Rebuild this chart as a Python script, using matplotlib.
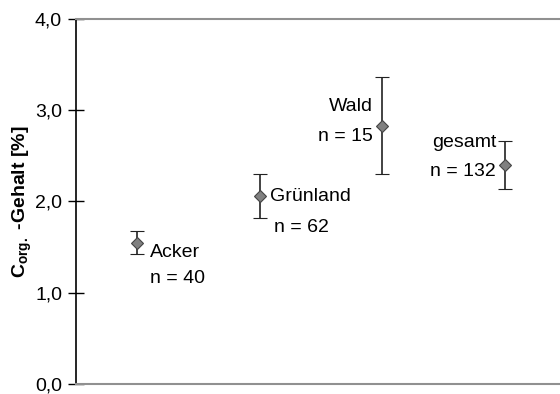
import matplotlib
matplotlib.use("Agg")
import matplotlib.pyplot as plt

plt.rcParams['font.family'] = ['Liberation Sans', 'DejaVu Sans']
plt.rcParams['mathtext.fontset'] = 'custom'
plt.rcParams['mathtext.rm'] = 'Liberation Sans'
plt.rcParams['mathtext.bf'] = 'Liberation Sans:bold'

# values
groups = ["Acker", "Grünland", "Wald", "gesamt"]
n_labels = ["n = 40", "n = 62", "n = 15", "n = 132"]
means = [1.55, 2.06, 2.83, 2.40]
errors = [0.125, 0.24, 0.53, 0.26]
yticks = [0.0, 1.0, 2.0, 3.0, 4.0]
ytick_labels = ["0,0", "1,0", "2,0", "3,0", "4,0"]

xs = list(range(1, len(groups) + 1))

fig = plt.figure(figsize=(5.6, 3.94), dpi=100)
ax = fig.add_axes([0.1357, 0.0254, 0.862, 0.9264])

ax.errorbar(xs, means, yerr=errors, fmt="D", color="#222222", ecolor="#222222",
            elinewidth=1.2, capsize=5, capthick=1.2,
            markerfacecolor="#808080", markeredgecolor="#444444",
            markersize=6, markeredgewidth=0.8)

ax.set_xlim(0.5, 4.44)
ax.set_ylim(0, 4)
ax.set_yticks(yticks)
ax.set_yticklabels(ytick_labels, fontsize=14)
ax.set_xticks([])
ax.tick_params(axis="y", direction="inout", length=12, width=1, pad=4)

ax.spines["right"].set_visible(False)
ax.spines["top"].set_color("#909090")
ax.spines["bottom"].set_color("#909090")
ax.spines["top"].set_linewidth(1.5)
ax.spines["bottom"].set_linewidth(1.5)
ax.spines["left"].set_linewidth(1.2)

ax.set_ylabel(r"$\mathbf{C_{org.}}$ -Gehalt [%]", fontsize=14, fontweight="bold", labelpad=1)

fs = 14
# Acker: labels right below
ax.text(1.105, 1.44, groups[0], fontsize=fs, ha="left", va="center")
ax.text(1.105, 1.16, n_labels[0], fontsize=fs, ha="left", va="center")
# Grünland: labels to the right
ax.text(2.08, 2.05, groups[1], fontsize=fs, ha="left", va="center")
ax.text(2.115, 1.72, n_labels[1], fontsize=fs, ha="left", va="center")
# Wald: labels to the left
ax.text(2.92, 3.04, groups[2], fontsize=fs, ha="right", va="center")
ax.text(2.92, 2.71, n_labels[2], fontsize=fs, ha="right", va="center")
# gesamt: labels to the left
ax.text(3.93, 2.65, groups[3], fontsize=fs, ha="right", va="center")
ax.text(3.93, 2.33, n_labels[3], fontsize=fs, ha="right", va="center")

fig.savefig("out.png", dpi=100)
